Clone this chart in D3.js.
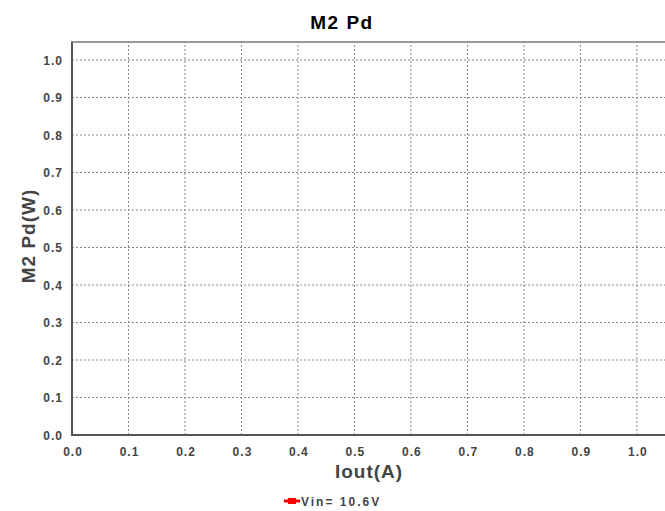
<!DOCTYPE html>
<html><head><meta charset="utf-8">
<script src="https://cdn.jsdelivr.net/npm/d3@7"></script>
<style>body{margin:0;background:#fff}svg{display:block}text{font-family:"Liberation Sans",Arial,sans-serif;font-weight:bold}</style>
</head><body>
<svg id="c" width="665" height="511"></svg>
<script>
const title = "M2 Pd";
const xLabel = "Iout(A)";
const yLabel = "M2 Pd(W)";
const xTicks = [0,0.1,0.2,0.3,0.4,0.5,0.6,0.7,0.8,0.9,1.0];
const yTicks = [0,0.1,0.2,0.3,0.4,0.5,0.6,0.7,0.8,0.9,1.0];
const seriesNames = ["Vin= 10.6V"];
const seriesColors = ["#ff0000"];
const seriesX = [[]];
const seriesY = [[]];

const svg = d3.select("#c");
const m = {l:72, r:1, t:42, b:76};
const W = 665, H = 511;
const x = d3.scaleLinear().domain([0,1.048]).range([m.l, W-m.r]);
const y = d3.scaleLinear().domain([0,1.048]).range([H-m.b, m.t]);
const tc = "#444";

// grid
svg.append("g").selectAll("line").data(xTicks.filter(d=>d>0)).join("line")
  .attr("x1",d=>x(d)).attr("x2",d=>x(d)).attr("y1",y(0)).attr("y2",m.t)
  .attr("stroke","#888").attr("stroke-width",1).attr("stroke-dasharray","2,2");
svg.append("g").selectAll("line").data(yTicks.filter(d=>d>0)).join("line")
  .attr("y1",d=>y(d)).attr("y2",d=>y(d)).attr("x1",x(0)).attr("x2",W)
  .attr("stroke","#888").attr("stroke-width",1).attr("stroke-dasharray","2,2");

// axes
const xa = svg.append("g").attr("transform",`translate(0,${y(0)})`)
  .call(d3.axisBottom(x).tickValues(xTicks).tickFormat(d3.format(".1f")).tickSize(0).tickPadding(12));
const ya = svg.append("g").attr("transform",`translate(${x(0)},0)`)
  .call(d3.axisLeft(y).tickValues(yTicks).tickFormat(d3.format(".1f")).tickSize(0).tickPadding(9));
[xa,ya].forEach(a=>{
  a.select(".domain").remove();
  a.selectAll("text").attr("fill",tc).style("font-size","12px").style("letter-spacing","1px")
   .style("font-family","Liberation Sans, Arial, sans-serif").style("font-weight","bold");
});
ya.selectAll("text").attr("dy","0.36em");
xa.selectAll("text").attr("dx","0.5px");

// frame lines
svg.append("line").attr("x1",x(0)).attr("x2",x(0)).attr("y1",m.t).attr("y2",y(0)).attr("stroke","#555").attr("stroke-width",2);
svg.append("line").attr("x1",x(0)-1).attr("x2",W).attr("y1",y(0)).attr("y2",y(0)).attr("stroke","#555").attr("stroke-width",2);
svg.append("line").attr("x1",x(0)-1).attr("x2",W).attr("y1",m.t).attr("y2",m.t).attr("stroke","#777").attr("stroke-width",1.5);

// series (no visible points)
seriesNames.forEach((n,i)=>{
  const pts = seriesX[i].map((v,j)=>[v,seriesY[i][j]]);
  svg.append("path").datum(pts).attr("fill","none").attr("stroke",seriesColors[i]).attr("stroke-width",2)
    .attr("d",d3.line().x(d=>x(d[0])).y(d=>y(d[1])));
});

// titles
svg.append("text").attr("x",342).attr("y",29).attr("text-anchor","middle").attr("fill","#000").style("font-size","19px").style("letter-spacing","1.5px").text(title);
svg.append("text").attr("x",369).attr("y",478).attr("text-anchor","middle").attr("fill",tc).style("font-size","19px").style("letter-spacing","1px").text(xLabel);
svg.append("text").attr("transform","translate(35,236) rotate(-90)").attr("text-anchor","middle").attr("fill",tc).style("font-size","19px").style("letter-spacing","1px").text(yLabel);

// legend
const lg = svg.append("g").attr("transform","translate(284,501)");
lg.append("line").attr("x1",0).attr("x2",16).attr("y1",0).attr("y2",0).attr("stroke",seriesColors[0]).attr("stroke-width",3);
lg.append("rect").attr("x",4).attr("y",-3).attr("width",8).attr("height",6).attr("fill",seriesColors[0]);
lg.append("text").attr("x",17).attr("y",4.5).attr("fill",tc).style("font-size","12px").style("letter-spacing","2px").text(seriesNames[0]);
</script>
</body></html>
